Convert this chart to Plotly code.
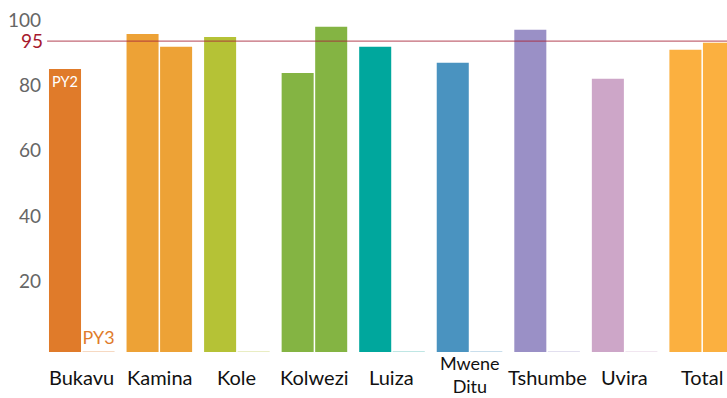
import plotly.graph_objects as go

# Data
sites = ["Bukavu", "Kamina", "Kole", "Kolwezi", "Luiza", "Mwene<br>Ditu",
         "Tshumbe", "Uvira", "Total"]
py2 = [86.5, 97.2, 96.3, 85.3, 93.3, 88.4, 98.5, 83.5, 92.4]
# missing PY3 values are drawn as a hairline placeholder
py3 = [0.3, 93.3, 0.3, 99.4, 0.3, 0.3, 0.3, 0.3, 94.5]
target = 95

site_colors = ["#E07B2A", "#EDA236", "#B5C236", "#84B443", "#00A79D",
               "#4A93C0", "#9A90C6", "#CDA6C8", "#FBB040"]
pale_colors = ["#F6D9C2", "#EDA236", "#E9EDC3", "#84B443", "#BFE6E4",
               "#C9DEEC", "#E2DFEF", "#F1E6F0", "#FBB040"]

FONT = "Lato, 'Open Sans', sans-serif"

fig = go.Figure()

fig.add_trace(go.Bar(
    x=sites, y=py2, name="PY2",
    marker=dict(color=site_colors, line=dict(width=0)),
    text=["PY2"] + [""] * (len(sites) - 1),
    textposition="inside", insidetextanchor="end", textangle=0,
    textfont=dict(color="white", size=18, family=FONT),
    cliponaxis=False,
))
fig.add_trace(go.Bar(
    x=sites, y=py3, name="PY3",
    marker=dict(color=pale_colors, line=dict(width=0)),
    text=["PY3"] + [""] * (len(sites) - 1),
    textposition="outside", textangle=0,
    textfont=dict(color="#E07B2A", size=18, family=FONT),
    cliponaxis=False,
))

# site names under each group (annotations so the two-line label stays centred)
for s in sites:
    two_lines = "<br>" in s
    fig.add_annotation(x=s, xref="x", yref="paper", y=0,
                       yshift=-22 if two_lines else -25,
                       xanchor="center", yanchor="middle", text=s,
                       showarrow=False,
                       font=dict(color="#111111", size=18 if two_lines else 20,
                                 family=FONT))

# target line
fig.add_shape(type="line", xref="paper", yref="y", x0=0.006, x1=1,
              y0=target, y1=target,
              line=dict(color="rgba(170,40,60,0.7)", width=1.3), layer="above")
fig.add_annotation(xref="paper", yref="y", x=0, y=target, xanchor="right",
                   yanchor="middle", xshift=2, yshift=1, text=str(target),
                   showarrow=False,
                   font=dict(color="#A6192E", size=19, family=FONT))

fig.update_layout(
    width=727, height=398,
    margin=dict(l=43, r=0, t=0, b=46),
    paper_bgcolor="white", plot_bgcolor="white",
    barmode="group", bargap=0.135, bargroupgap=0.045,
    showlegend=False,
    font=dict(family=FONT),
)
fig.update_xaxes(
    range=[-0.5, 8.32], showline=False, showgrid=False, ticks="",
    automargin=False, showticklabels=False,
)
fig.update_yaxes(
    range=[0, 107.6], tickvals=[20, 40, 60, 80, 100], showgrid=False,
    zeroline=False, showline=False, ticks="", ticklabelshift=-5,
    automargin=False, ticklabelstandoff=1,
    tickfont=dict(color="#666666", size=19, family=FONT),
)

fig.write_html("out.html", config={"displayModeBar": False},
               post_script="document.body.style.margin='0';")
